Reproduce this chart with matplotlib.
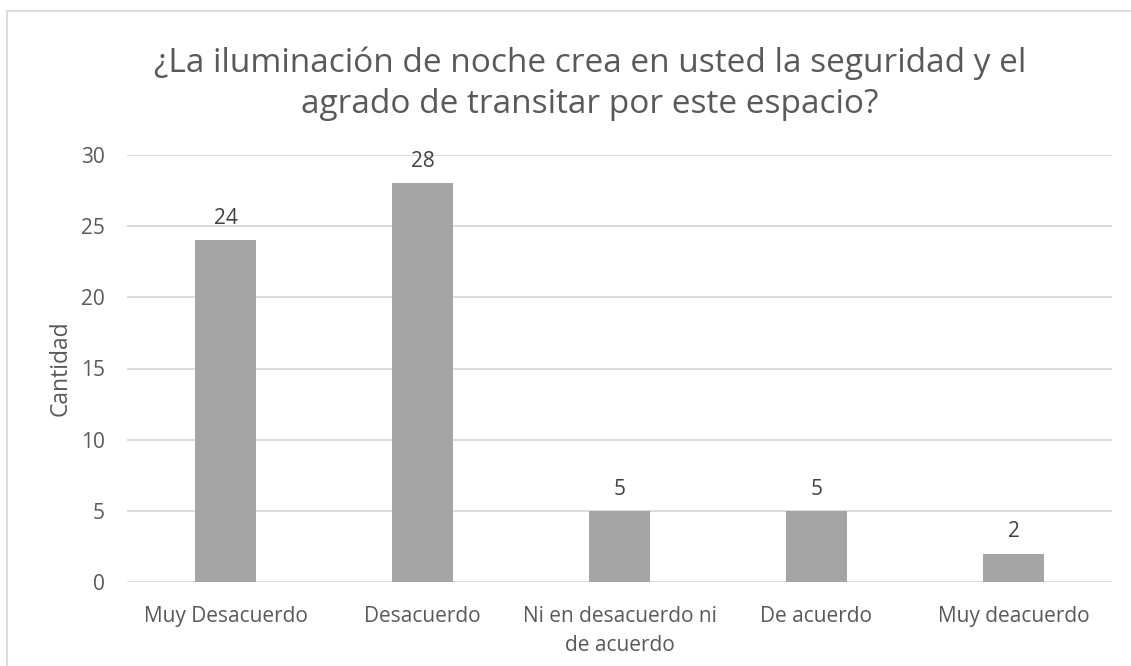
import matplotlib
matplotlib.use("Agg")
import matplotlib.pyplot as plt
from matplotlib.patches import Rectangle

categories = ["Muy Desacuerdo", "Desacuerdo", "Ni en desacuerdo ni\nde acuerdo", "De acuerdo", "Muy deacuerdo"]
values = [24, 28, 5, 5, 2]
yticks = [0, 5, 10, 15, 20, 25, 30]
title = "¿La iluminación de noche crea en usted la seguridad y el\nagrado de transitar por este espacio?"

plt.rcParams['font.family'] = ['Open Sans', 'DejaVu Sans']
txt = "#595959"
grid = "#D9D9D9"
bar_c = "#A5A5A5"

fig = plt.figure(figsize=(11.31, 6.66), dpi=100)
fig.patches.append(Rectangle((7/1131, -0.1), 1.2, 1 - 11/666 + 0.1, transform=fig.transFigure,
                             fill=False, edgecolor=grid, linewidth=1.3))
ax = fig.add_axes([127/1131, 1 - 582/666, (1112 - 127)/1131, (582 - 155)/666])

x = list(range(len(categories)))
bars = ax.bar(x, values, width=0.31, color=bar_c, zorder=3)
ax.set_xlim(-0.5, len(categories) - 0.5)
ax.set_ylim(0, 30)
ax.set_yticks(yticks)
ax.set_xticks(x)
ax.set_xticklabels(categories, fontsize=15, color=txt, linespacing=1.5)
ax.tick_params(axis='y', labelsize=15, colors=txt, length=0, pad=16)
ax.tick_params(axis='x', length=0, pad=17.5, colors=txt)
ax.yaxis.grid(True, color=grid, linewidth=1.3, zorder=0)
for s in ax.spines.values():
    s.set_visible(False)

for xi, v in zip(x, values):
    ax.annotate(str(v), (xi, v), xytext=(0, 8), textcoords='offset points',
                ha='center', va='bottom', fontsize=15, color="#404040")

ax.set_ylabel("Cantidad", fontsize=16.5, color=txt, labelpad=6)
fig.text(590/1131, 1 - 84/666, title, ha='center', va='center', fontsize=24,
         color=txt, linespacing=1.3)

fig.savefig("out.png", dpi=100)
